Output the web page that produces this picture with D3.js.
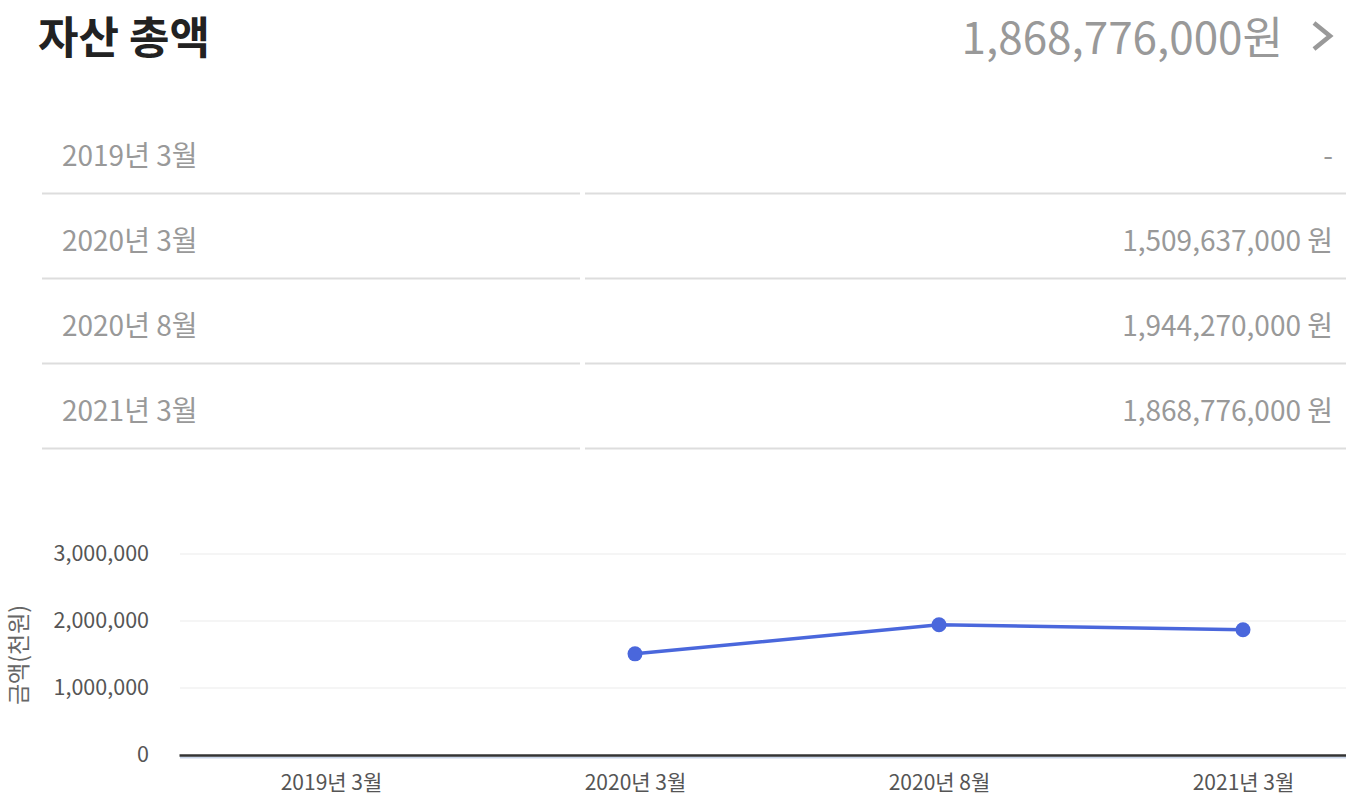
<!DOCTYPE html>
<html><head><meta charset="utf-8">
<script src="https://cdn.jsdelivr.net/npm/d3@7"></script>
<style>
html,body{margin:0;padding:0;background:#fff;overflow:hidden;}
svg{display:block;font-family:"Noto Sans CJK KR","Noto Sans",sans-serif;}
</style></head>
<body>
<svg id="c" width="1346" height="806"></svg>
<script>
const title = "자산 총액";
const totalLabel = "1,868,776,000원";
const categories = ["2019년 3월", "2020년 3월", "2020년 8월", "2021년 3월"];
const tableValues = ["-", "1,509,637,000 원", "1,944,270,000 원", "1,868,776,000 원"];
const seriesValues = [null, 1509637, 1944270, 1868776]; // 천원
const yTicks = [0, 1000000, 2000000, 3000000];
const yTitle = "금액(천원)";

const svg = d3.select("#c");

// Header
svg.append("text").attr("x", 38).attr("y", 54).attr("font-size", 44).attr("font-weight", 700)
  .attr("fill", "#222").text(title);
svg.append("text").attr("x", 1283).attr("y", 54).attr("text-anchor", "end").attr("font-size", 44)
  .attr("fill", "#999").text(totalLabel);
svg.append("path").attr("d", "M1314,23 L1330,36 L1314,49").attr("fill", "none")
  .attr("stroke", "#999").attr("stroke-width", 4.5);

// Table
const rowY = d3.scalePoint().domain(categories).range([156, 411]);
const rows = svg.append("g");
categories.forEach((c, i) => {
  const y = rowY(c);
  rows.append("text").attr("x", 62).attr("y", y).attr("dy", "0.35em").attr("font-size", 28)
    .attr("fill", "#999").text(c);
  rows.append("text").attr("x", 1333).attr("y", y).attr("dy", "0.35em").attr("text-anchor", "end")
    .attr("font-size", 28).attr("fill", "#999").text(tableValues[i]);
  const ly = y + 37.5;
  rows.append("line").attr("x1", 42).attr("x2", 580).attr("y1", ly).attr("y2", ly)
    .attr("stroke", "#ddd").attr("stroke-width", 2);
  rows.append("line").attr("x1", 585).attr("x2", 1346).attr("y1", ly).attr("y2", ly)
    .attr("stroke", "#ddd").attr("stroke-width", 2);
});

// Chart
const x = d3.scalePoint().domain(categories).range([179, 1395]).padding(0.5);
const y = d3.scaleLinear().domain([0, 3000000]).range([755, 554]);

const grid = svg.append("g");
grid.selectAll("line").data(yTicks.filter(d => d > 0)).join("line")
  .attr("x1", 180).attr("x2", 1346).attr("y1", d => y(d)).attr("y2", d => y(d))
  .attr("stroke", "#f2f2f2").attr("stroke-width", 1.5);

const yAxis = svg.append("g").attr("transform", "translate(180,0)")
  .call(d3.axisLeft(y).tickValues(yTicks).tickFormat(d3.format(",")).tickSize(0).tickPadding(31));
yAxis.select(".domain").remove();
yAxis.selectAll("text").attr("font-size", 21.5).attr("fill", "#555")
  .attr("font-family", "'Noto Sans CJK KR','Noto Sans',sans-serif");

svg.append("line").attr("x1", 180).attr("x2", 1346).attr("y1", 757.5).attr("y2", 757.5)
  .attr("stroke", "#c9d5ea").attr("stroke-width", 2);
const xAxis = svg.append("g").attr("transform", "translate(0,755)")
  .call(d3.axisBottom(x).tickSize(0).tickPadding(20));
xAxis.select(".domain").attr("stroke", "#333").attr("stroke-width", 2.5);
xAxis.selectAll("text").attr("font-size", 21).attr("fill", "#555")
  .attr("font-family", "'Noto Sans CJK KR','Noto Sans',sans-serif");

svg.append("text").attr("transform", "translate(27,655) rotate(-90)").attr("text-anchor", "middle")
  .attr("font-size", 23).attr("fill", "#666").text(yTitle);

const pts = categories.map((c, i) => ({c, v: seriesValues[i]})).filter(d => d.v != null);
svg.append("path").datum(pts)
  .attr("d", d3.line().x(d => x(d.c)).y(d => y(d.v)))
  .attr("fill", "none").attr("stroke", "#4a67dc").attr("stroke-width", 3.5);
svg.selectAll("circle.pt").data(pts).join("circle").attr("class", "pt")
  .attr("cx", d => x(d.c)).attr("cy", d => y(d.v)).attr("r", 7.5).attr("fill", "#4a67dc");
</script>
</body></html>
